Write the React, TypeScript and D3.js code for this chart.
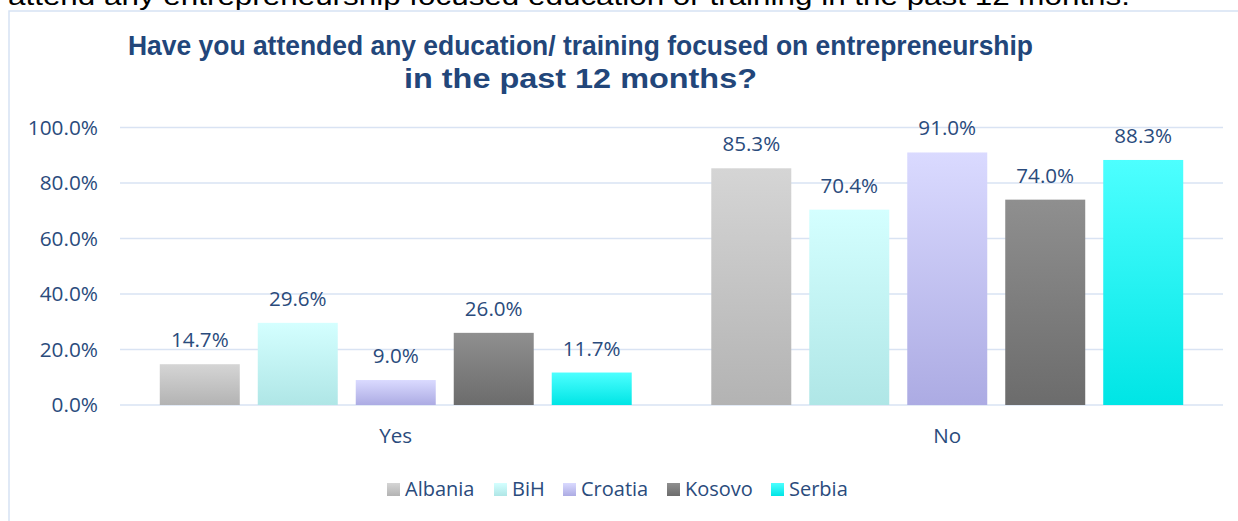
import React from "react";
import * as d3 from "d3";

const categories = ["Yes", "No"];
const countries = ["Albania", "BiH", "Croatia", "Kosovo", "Serbia"];
// share of respondents per country, by answer
const yesValues = [0.147, 0.296, 0.09, 0.26, 0.117];
const noValues = [0.853, 0.704, 0.91, 0.74, 0.883];
const yTicks = [0, 0.2, 0.4, 0.6, 0.8, 1.0];

const gradients: Record<string, [string, string]> = {
  Albania: ["#d5d5d5", "#b3b3b3"],
  BiH: ["#d4ffff", "#afe6e6"],
  Croatia: ["#dadaff", "#acabe3"],
  Kosovo: ["#8f8f8f", "#6c6c6c"],
  Serbia: ["#4dffff", "#00e5e5"],
};

const W = 1238;
const H = 521;
const margin = { top: 127.5, left: 120, right: 15, bottom: 116 };
const labelFont = "'Open Sans', sans-serif";
const navy = "#2a4b7c";

const App = () => {
  const values = [yesValues, noValues];

  const x0 = d3
    .scaleBand()
    .domain(categories)
    .range([margin.left, W - margin.right]);

  const x1 = d3
    .scaleBand()
    .domain(countries)
    .range([0, x0.bandwidth()])
    .paddingInner(18 / 98)
    .paddingOuter(0.406);

  const y = d3
    .scaleLinear()
    .domain([0, 1])
    .range([H - margin.bottom, margin.top]);

  const fmt = d3.format(".1%");

  // legend layout
  const legendX = [387, 494, 563, 667, 771];
  const legendY = 483;

  return (
    <svg
      width={W}
      height={H}
      style={{ position: "absolute", left: 0, top: 0, background: "#fff" }}
    >
      <defs>
        {countries.map((c) => (
          <linearGradient key={c} id={`g-${c}`} x1="0" y1="0" x2="0" y2="1">
            <stop offset="0%" stopColor={gradients[c][0]} />
            <stop offset="100%" stopColor={gradients[c][1]} />
          </linearGradient>
        ))}
      </defs>

      <text
        x={8}
        y={5}
        fontFamily="'Liberation Sans', Arial, sans-serif"
        fontSize={26}
        fill="#000"
        textLength={1122}
        lengthAdjust="spacingAndGlyphs"
      >
        attend any entrepreneurship focused education or training in the past 12 months.
      </text>

      <rect
        x={9}
        y={11}
        width={1400}
        height={700}
        fill="none"
        stroke="#d6e2f3"
        strokeWidth={1.5}
      />

      <g
        fontFamily="'Liberation Sans', Arial, sans-serif"
        fontWeight="bold"
        fontSize={27}
        fill="#22467a"
        textAnchor="middle"
      >
        <text x={580.5} y={55} textLength={905} lengthAdjust="spacingAndGlyphs">
          Have you attended any education/ training focused on entrepreneurship
        </text>
        <text x={580.5} y={88} textLength={353} lengthAdjust="spacingAndGlyphs">
          in the past 12 months?
        </text>
      </g>

      <g>
        {yTicks.map((t) => (
          <g key={t}>
            <line
              x1={margin.left}
              x2={W - margin.right}
              y1={y(t)}
              y2={y(t)}
              stroke="#d9e3f3"
              strokeWidth={1.5}
            />
            <text
              x={98}
              y={y(t)}
              dy="0.36em"
              textAnchor="end"
              fontFamily={labelFont}
              fontSize={20.8}
              fill={navy}
            >
              {fmt(t)}
            </text>
          </g>
        ))}
      </g>

      {categories.map((cat, ci) => (
        <g key={cat} transform={`translate(${x0(cat)},0)`}>
          {countries.map((c, si) => {
            const v = values[ci][si];
            const bx = x1(c) as number;
            return (
              <g key={c}>
                <rect
                  x={bx}
                  y={y(v)}
                  width={x1.bandwidth()}
                  height={y(0) - y(v)}
                  fill={`url(#g-${c})`}
                />
                <text
                  x={bx + x1.bandwidth() / 2}
                  y={y(v) - 17}
                  textAnchor="middle"
                  fontFamily={labelFont}
                  fontSize={20.6}
                  fill={navy}
                >
                  {fmt(v)}
                </text>
              </g>
            );
          })}
          <text
            x={x0.bandwidth() / 2}
            y={442.5}
            textAnchor="middle"
            fontFamily={labelFont}
            fontSize={20.6}
            fill={navy}
          >
            {cat}
          </text>
        </g>
      ))}

      <g>
        {countries.map((c, i) => (
          <g key={c} transform={`translate(${legendX[i]},${legendY})`}>
            <rect width={13} height={13} fill={`url(#g-${c})`} />
            <text
              x={18}
              y={13}
              fontFamily={labelFont}
              fontSize={20}
              fill={navy}
            >
              {c}
            </text>
          </g>
        ))}
      </g>
    </svg>
  );
};

export default App;
